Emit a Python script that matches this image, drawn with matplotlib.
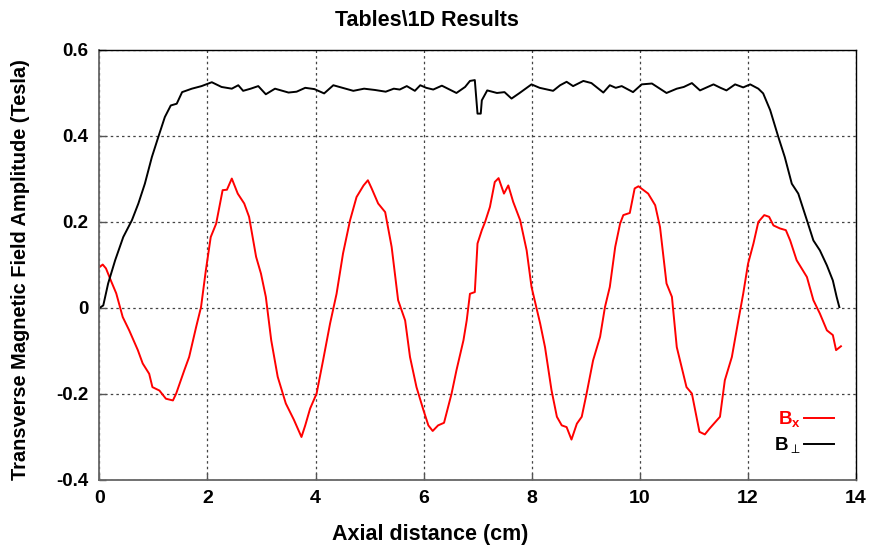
import numpy as np
import matplotlib
matplotlib.use("Agg")
import matplotlib.pyplot as plt
from matplotlib import font_manager

# B-perp (black) digitized
x_perp = [0.0, 0.07, 0.16, 0.29, 0.44, 0.60, 0.72, 0.84, 0.97, 1.09, 1.21, 1.32, 1.43, 1.53,
          1.71, 1.89, 2.08, 2.26, 2.45, 2.57, 2.66, 2.80, 2.94, 3.08, 3.25, 3.50, 3.65, 3.81,
          3.98, 4.16, 4.33, 4.50, 4.70, 4.90, 5.10, 5.30, 5.45, 5.56, 5.69, 5.84, 5.94, 6.05,
          6.18, 6.34, 6.61, 6.77, 6.86, 6.95, 7.00, 7.06, 7.08, 7.18, 7.36, 7.50, 7.63, 7.78,
          8.00, 8.15, 8.40, 8.53, 8.65, 8.77, 8.96, 9.11, 9.33, 9.45, 9.56, 9.67, 9.88, 10.04,
          10.23, 10.50, 10.69, 10.82, 10.97, 11.12, 11.37, 11.50, 11.61, 11.77, 11.92, 12.05,
          12.20, 12.29, 12.42, 12.57, 12.69, 12.82, 12.94, 13.10, 13.22, 13.34, 13.47, 13.58,
          13.65, 13.70]
b_perp = [0.000, 0.006, 0.057, 0.111, 0.165, 0.204, 0.243, 0.289, 0.351, 0.398, 0.444, 0.471,
          0.475, 0.502, 0.510, 0.516, 0.525, 0.514, 0.510, 0.518, 0.505, 0.510, 0.516, 0.497,
          0.510, 0.501, 0.503, 0.512, 0.509, 0.499, 0.518, 0.512, 0.505, 0.510, 0.507, 0.503,
          0.510, 0.508, 0.516, 0.505, 0.518, 0.512, 0.508, 0.517, 0.500, 0.514, 0.528, 0.530,
          0.452, 0.452, 0.483, 0.506, 0.500, 0.502, 0.487, 0.500, 0.520, 0.512, 0.505, 0.518,
          0.526, 0.516, 0.528, 0.523, 0.501, 0.518, 0.512, 0.516, 0.502, 0.520, 0.522, 0.500,
          0.510, 0.514, 0.523, 0.506, 0.520, 0.512, 0.506, 0.520, 0.513, 0.520, 0.510, 0.499,
          0.460, 0.398, 0.351, 0.289, 0.266, 0.204, 0.157, 0.134, 0.099, 0.064, 0.026, 0.002]

# B-x (red) digitized
x_bx = [0.00, 0.06, 0.12, 0.21, 0.31, 0.43, 0.55, 0.71, 0.80, 0.92, 0.98, 1.11, 1.23, 1.36,
        1.42, 1.57, 1.66, 1.79, 1.88, 1.97, 2.06, 2.16, 2.28, 2.36, 2.45, 2.56, 2.68, 2.77,
        2.90, 2.99, 3.08, 3.18, 3.30, 3.45, 3.60, 3.74, 3.81, 3.90, 4.02, 4.14, 4.27, 4.39,
        4.51, 4.64, 4.76, 4.89, 4.97, 5.04, 5.16, 5.29, 5.41, 5.53, 5.66, 5.75, 5.87, 6.00,
        6.09, 6.17, 6.27, 6.38, 6.52, 6.61, 6.74, 6.80, 6.86, 6.95, 7.00, 7.08, 7.14, 7.23,
        7.32, 7.39, 7.49, 7.57, 7.66, 7.79, 7.91, 8.00, 8.16, 8.25, 8.37, 8.47, 8.56, 8.65,
        8.74, 8.84, 8.93, 9.02, 9.14, 9.27, 9.36, 9.45, 9.55, 9.64, 9.70, 9.82, 9.91, 9.98,
        10.16, 10.29, 10.38, 10.50, 10.60, 10.69, 10.78, 10.87, 10.97, 11.11, 11.21, 11.30,
        11.49, 11.58, 11.71, 11.83, 11.92, 12.01, 12.11, 12.20, 12.31, 12.40, 12.48, 12.60,
        12.71, 12.79, 12.91, 13.10, 13.22, 13.34, 13.47, 13.58, 13.64, 13.73]
bx = [0.095, 0.101, 0.092, 0.064, 0.034, -0.021, -0.052, -0.098, -0.129, -0.153, -0.184,
      -0.192, -0.211, -0.215, -0.199, -0.145, -0.114, -0.044, 0.002, 0.088, 0.165, 0.196,
      0.274, 0.275, 0.301, 0.266, 0.243, 0.212, 0.119, 0.080, 0.026, -0.075, -0.160, -0.222,
      -0.260, -0.300, -0.273, -0.234, -0.199, -0.122, -0.036, 0.033, 0.127, 0.204, 0.258,
      0.285, 0.297, 0.278, 0.243, 0.223, 0.142, 0.018, -0.029, -0.114, -0.184, -0.238,
      -0.273, -0.286, -0.273, -0.267, -0.199, -0.145, -0.075, -0.029, 0.033, 0.037, 0.150,
      0.181, 0.200, 0.235, 0.293, 0.302, 0.266, 0.285, 0.247, 0.204, 0.134, 0.049, -0.036,
      -0.091, -0.191, -0.253, -0.273, -0.277, -0.306, -0.269, -0.253, -0.199, -0.122,
      -0.067, 0.002, 0.049, 0.142, 0.196, 0.216, 0.221, 0.278, 0.283, 0.266, 0.239, 0.188,
      0.057, 0.026, -0.091, -0.137, -0.184, -0.199, -0.288, -0.294, -0.280, -0.253, -0.168,
      -0.114, -0.029, 0.033, 0.103, 0.150, 0.200, 0.216, 0.212, 0.192, 0.185, 0.181, 0.157,
      0.111, 0.072, 0.018, -0.013, -0.052, -0.063, -0.098, -0.089]

x_ticks = [0, 2, 4, 6, 8, 10, 12, 14]
y_ticks = [-0.4, -0.2, 0.0, 0.2, 0.4, 0.6]
y_ticklabels = ['-0.4', '-0.2', '0', '0.2', '0.4', '0.6']

names = {f.name for f in font_manager.fontManager.ttflist}
narrow = 'Liberation Sans Narrow' if 'Liberation Sans Narrow' in names else 'Liberation Sans'
plt.rcParams['font.family'] = ['Liberation Sans', 'DejaVu Sans']
plt.rcParams['mathtext.fontset'] = 'custom'
plt.rcParams['mathtext.bf'] = 'Liberation Sans:bold'
plt.rcParams['mathtext.rm'] = 'DejaVu Sans'
plt.rcParams['mathtext.it'] = 'DejaVu Sans'

fig = plt.figure(figsize=(8.72, 5.48), dpi=100)
ax = fig.add_axes([0.1141, 0.1241, 0.9811 - 0.1141, 0.9088 - 0.1241])

ax.plot(x_bx, bx, color='#ff0000', lw=1.4, label=r'$\mathbf{B_x}$')
ax.plot(x_perp, b_perp, color='black', lw=1.4, label=r'$\mathbf{B}_{\perp}$')

ax.set_xlim(0, 14)
ax.set_ylim(-0.4, 0.6)
ax.set_xticks(x_ticks)
ax.set_yticks(y_ticks)
ax.set_yticklabels(y_ticklabels)
ax.grid(True, color='#444444', linestyle=(0, (2, 2.5)), lw=0.9)
ax.tick_params(direction='in', length=5, top=False, right=False, width=1, color='#555555')
for lab in ax.get_yticklabels():
    lab.set_fontweight('bold')
    lab.set_fontsize(13.5)
for lab in ax.get_xticklabels():
    lab.set_fontweight('bold')
    lab.set_fontsize(14)
    lab.set_family(narrow)
ax.tick_params(axis='y', pad=8)
ax.tick_params(axis='x', pad=7)
for s in ['left', 'bottom']:
    ax.spines[s].set_color('#666666')
    ax.spines[s].set_linewidth(1.3)
for s in ['top', 'right']:
    ax.spines[s].set_color('black')
    ax.spines[s].set_linewidth(1)

fig.text(0.49, 0.962, 'Tables\\1D Results', ha='center', va='center',
         fontsize=15.5, fontweight='bold')
fig.text(0.493, 0.025, 'Axial distance (cm)', ha='center', va='center',
         fontsize=15.5, fontweight='bold', family=narrow)
fig.text(0.024, 0.509, 'Transverse Magnetic Field Amplitude (Tesla)',
         ha='center', va='center', rotation=90, fontsize=14.4, fontweight='bold')

leg = ax.legend(loc='lower right', bbox_to_anchor=(0.972, 0.055), frameon=False,
                markerfirst=False, fontsize=13.5, handlelength=1.6, handletextpad=0.2,
                labelspacing=0.35, borderaxespad=0, borderpad=0)
for t, c in zip(leg.get_texts(), ['#ff0000', 'black']):
    t.set_color(c)

fig.savefig('out.png', dpi=100)
